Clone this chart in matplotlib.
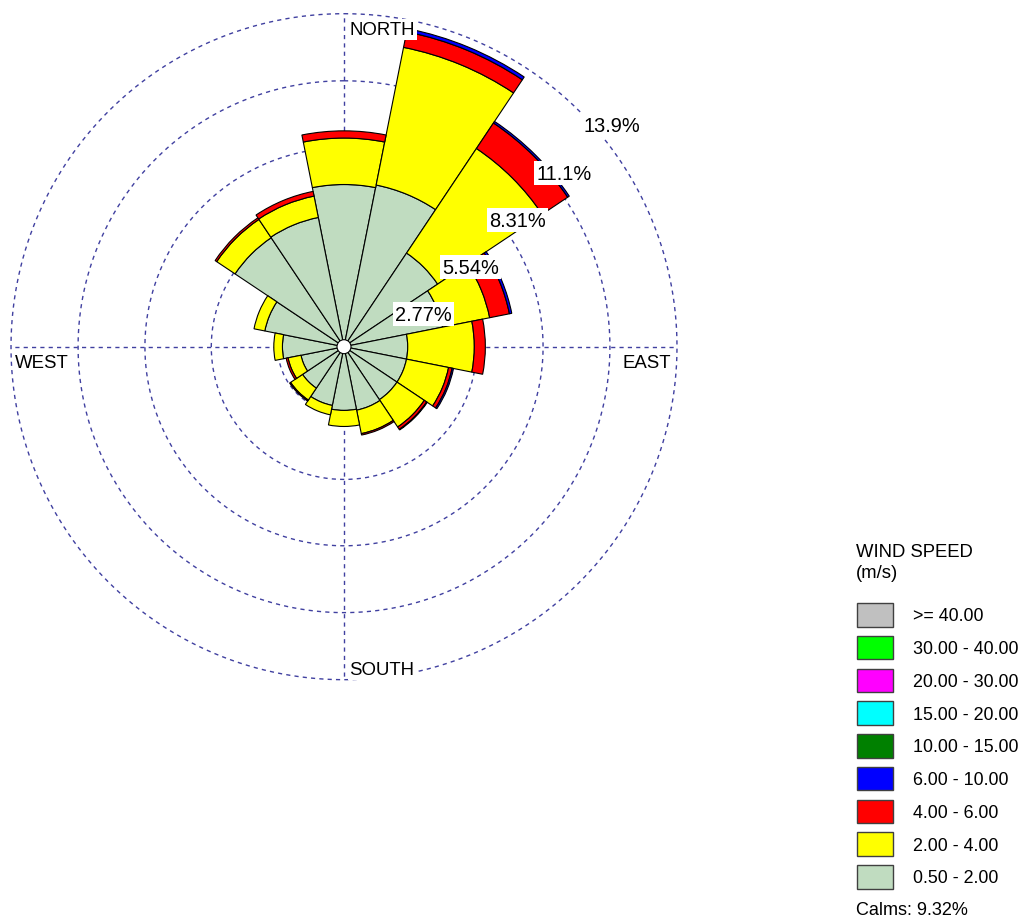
import numpy as np
import matplotlib
matplotlib.use('Agg')
import matplotlib.pyplot as plt
from matplotlib.patches import Rectangle, Circle

plt.rcParams['font.family'] = ['Liberation Sans', 'DejaVu Sans']

# ---------------- data ----------------
directions = ['N', 'NNE', 'NE', 'ENE', 'E', 'ESE', 'SE', 'SSE',
              'S', 'SSW', 'SW', 'WSW', 'W', 'WNW', 'NW', 'NNW']
bearings_deg = [0, 22.5, 45, 67.5, 90, 112.5, 135, 157.5,
                180, 202.5, 225, 247.5, 270, 292.5, 315, 337.5]

# frequency (%) per speed class and direction
freq_0p5_2 = [6.77, 6.88, 4.70, 4.20, 2.66, 2.66, 2.66, 2.70,
              2.66, 2.50, 2.08, 1.83, 2.57, 3.37, 5.47, 5.50]
freq_2_4 = [1.94, 5.86, 5.25, 2.00, 2.78, 1.79, 1.37, 1.00,
            0.67, 0.40, 0.60, 0.55, 0.36, 0.46, 0.92, 0.91]
freq_4_6 = [0.30, 0.66, 1.28, 0.84, 0.46, 0.15, 0.12, 0.06,
            0.00, 0.00, 0.05, 0.08, 0.00, 0.00, 0.08, 0.20]
freq_6_10 = [0.00, 0.14, 0.08, 0.10, 0.00, 0.06, 0.03, 0.00,
             0.00, 0.00, 0.00, 0.00, 0.00, 0.00, 0.00, 0.00]

ring_values = [2.77, 5.54, 8.31, 11.1, 13.9]
ring_labels = ['2.77%', '5.54%', '8.31%', '11.1%', '13.9%']
compass_labels = ['NORTH', 'EAST', 'SOUTH', 'WEST']

legend_title = 'WIND SPEED\n(m/s)'
legend_labels = ['>= 40.00', '30.00 - 40.00', '20.00 - 30.00', '15.00 - 20.00',
                 '10.00 - 15.00', '6.00 - 10.00', '4.00 - 6.00', '2.00 - 4.00',
                 '0.50 - 2.00']
legend_colors = ['#C0C0C0', '#00FF00', '#FF00FF', '#00FFFF', '#008000',
                 '#0000FF', '#FF0000', '#FFFF00', '#C0DCC0']
calms_pct = 9.32

# ---------------- figure ----------------
W, H = 1022, 920
fig = plt.figure(figsize=(W / 100, H / 100), dpi=100)
fig.patch.set_facecolor('white')

cx, cy, R = 344, 347.7, 333
ax = fig.add_axes([(cx - R) / W, 1 - (cy + R) / H, 2 * R / W, 2 * R / H],
                  projection='polar')
ax.set_theta_zero_location('N')
ax.set_theta_direction(-1)
rmax = ring_values[-1]
ax.set_ylim(0, rmax)
ax.grid(False)
ax.set_xticks([])
ax.set_yticks([])
ax.spines['polar'].set_visible(False)
ax.patch.set_alpha(0)

grid_col = '#4040a0'
dash = (0, (3, 3))
tt = np.linspace(0, 2 * np.pi, 720)
for rv in ring_values:
    ax.plot(tt, np.full_like(tt, rv), color=grid_col, lw=1.0, ls=dash,
            zorder=1, clip_on=False)
for a in [0, 90, 180, 270]:
    ax.plot([np.deg2rad(a), np.deg2rad(a)], [0, rmax], color=grid_col,
            lw=1.0, ls=dash, zorder=1, clip_on=False)

theta = np.deg2rad(bearings_deg)
width = np.deg2rad(22.5)
series = [freq_0p5_2, freq_2_4, freq_4_6, freq_6_10]
series_colors = ['#C0DCC0', '#FFFF00', '#FF0000', '#0000FF']
bottom = np.zeros(len(theta))
for vals, col in zip(series, series_colors):
    vals = np.asarray(vals)
    m = vals > 0
    ax.bar(theta[m], vals[m], width=width, bottom=bottom[m], color=col,
           edgecolor='black', linewidth=0.8, zorder=3, align='center')
    bottom = bottom + vals

# calm circle
ax.add_patch(Circle((0.5, 0.5), 7 / (2 * R), transform=ax.transAxes,
                    facecolor='white', edgecolor='black', lw=0.8, zorder=6))

# ring labels
for rv, lab in zip(ring_values, ring_labels):
    ax.annotate(lab, xy=(np.pi / 4, rv), xytext=(3, -3.5),
                textcoords='offset points', ha='left', va='top',
                fontsize=14.4, color='black', zorder=7,
                annotation_clip=False,
                bbox=dict(boxstyle='square,pad=0.12', fc='white', ec='none'))

# compass labels
cfg = [(0, (4, -5), 'left', 'top'),
       (90, (-4, -5.5), 'right', 'top'),
       (180, (4, 1), 'left', 'bottom'),
       (270, (3, -5.5), 'left', 'top')]
for lab, (a, off, ha, va) in zip(compass_labels, cfg):
    ax.annotate(lab, xy=(np.deg2rad(a), rmax), xytext=off,
                textcoords='offset points', ha=ha, va=va, fontsize=13.4,
                color='black', zorder=7, annotation_clip=False,
                bbox=dict(boxstyle='square,pad=0.1', fc='white', ec='none'))

# ---------------- legend ----------------
lg = fig.add_axes([0, 0, 1, 1])
lg.set_xlim(0, W)
lg.set_ylim(H, 0)
lg.axis('off')
lg.patch.set_alpha(0)
lg.text(856, 563, legend_title, ha='left', va='center', fontsize=13.3,
        linespacing=1.35)
y0, dy = 615.8, 32.75
for i, (lab, col) in enumerate(zip(legend_labels, legend_colors)):
    yc = y0 + i * dy
    lg.add_patch(Rectangle((856.5, yc - 11.8), 36.5, 23.5, facecolor=col,
                           edgecolor='#404040', lw=1.0))
    lg.text(913, yc + 1, lab, ha='left', va='center', fontsize=12.9)
lg.text(856, 911, f'Calms: {calms_pct:.2f}%', ha='left', va='center',
        fontsize=13.0)

fig.savefig('out.png', dpi=100, facecolor='white')
